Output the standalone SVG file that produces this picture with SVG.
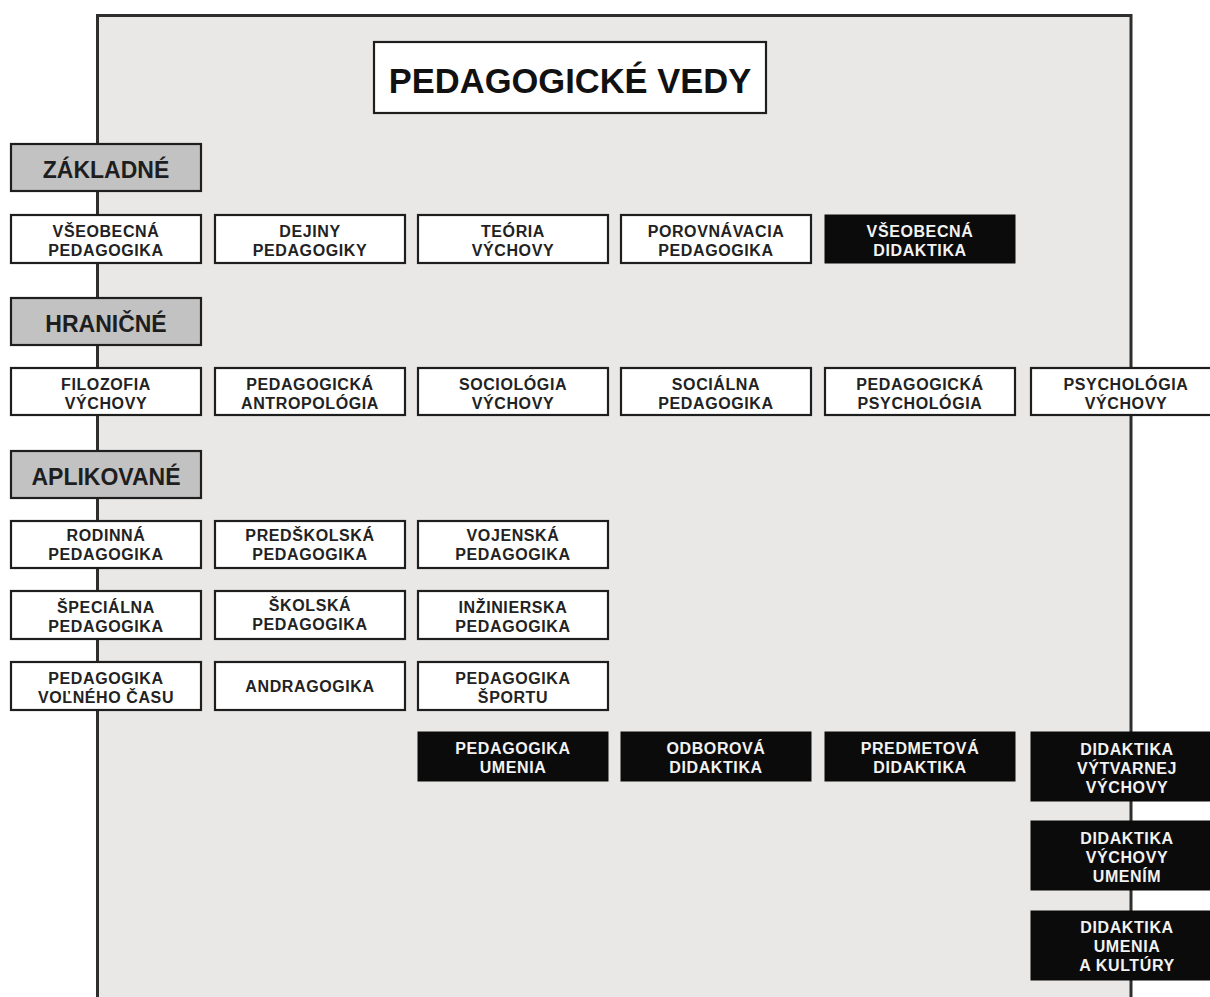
<svg xmlns="http://www.w3.org/2000/svg" width="1210" height="997" viewBox="0 0 1210 997">
<style>
.bg{fill:#ffffff}
.panel{fill:#e9e8e6}
.line{fill:none;stroke:#2e2e2e;stroke-width:3}
.box{fill:#ffffff;stroke:#1e1e1e;stroke-width:2.2}
.dark{fill:#0b0b0b;stroke:#0b0b0b;stroke-width:1}
.head{fill:#c2c2c2;stroke:#1e1e1e;stroke-width:2.2}
.t{font-family:"Liberation Sans",Arial,sans-serif;font-weight:bold;font-size:16px;letter-spacing:0.6px;text-anchor:middle;fill:#222}
.w{fill:#f2f2f2}
.h{font-family:"Liberation Sans",Arial,sans-serif;font-weight:bold;font-size:23px;text-anchor:middle;fill:#1e1e1e}
.title{font-family:"Liberation Sans",Arial,sans-serif;font-weight:bold;font-size:34.5px;text-anchor:middle;fill:#111}
</style>
<rect class="bg" x="0" y="0" width="1210" height="997"/>
<rect class="panel" x="97" y="15" width="1034" height="982"/>
<g id="connectors">
<path class="line" d="M97.5,997 V15.5 H1131 V997"/>
</g>
<g id="title"><rect class="box" x="374" y="42" width="392" height="71"/><text class="title" x="570" y="93">PEDAGOGICKÉ VEDY</text></g>

<g id="zakladne"><rect class="head" x="11" y="144" width="190" height="47"/><text class="h" x="106" y="178">ZÁKLADNÉ</text></g>
<g id="vseobecna-pedagogika"><rect class="box" x="11" y="215" width="190" height="48"/><text class="t" x="106" y="237">VŠEOBECNÁ</text><text class="t" x="106" y="256">PEDAGOGIKA</text></g>
<g id="dejiny-pedagogiky"><rect class="box" x="215" y="215" width="190" height="48"/><text class="t" x="310" y="237">DEJINY</text><text class="t" x="310" y="256">PEDAGOGIKY</text></g>
<g id="teoria-vychovy"><rect class="box" x="418" y="215" width="190" height="48"/><text class="t" x="513" y="237">TEÓRIA</text><text class="t" x="513" y="256">VÝCHOVY</text></g>
<g id="porovnavacia-pedagogika"><rect class="box" x="621" y="215" width="190" height="48"/><text class="t" x="716" y="237">POROVNÁVACIA</text><text class="t" x="716" y="256">PEDAGOGIKA</text></g>
<g id="vseobecna-didaktika"><rect class="dark" x="825" y="215" width="190" height="48"/><text class="t w" x="920" y="237">VŠEOBECNÁ</text><text class="t w" x="920" y="256">DIDAKTIKA</text></g>

<g id="hranicne"><rect class="head" x="11" y="298" width="190" height="47"/><text class="h" x="106" y="332">HRANIČNÉ</text></g>
<g id="filozofia-vychovy"><rect class="box" x="11" y="368" width="190" height="47"/><text class="t" x="106" y="390">FILOZOFIA</text><text class="t" x="106" y="409">VÝCHOVY</text></g>
<g id="pedagogicka-antropologia"><rect class="box" x="215" y="368" width="190" height="47"/><text class="t" x="310" y="390">PEDAGOGICKÁ</text><text class="t" x="310" y="409">ANTROPOLÓGIA</text></g>
<g id="sociologia-vychovy"><rect class="box" x="418" y="368" width="190" height="47"/><text class="t" x="513" y="390">SOCIOLÓGIA</text><text class="t" x="513" y="409">VÝCHOVY</text></g>
<g id="socialna-pedagogika"><rect class="box" x="621" y="368" width="190" height="47"/><text class="t" x="716" y="390">SOCIÁLNA</text><text class="t" x="716" y="409">PEDAGOGIKA</text></g>
<g id="pedagogicka-psychologia"><rect class="box" x="825" y="368" width="190" height="47"/><text class="t" x="920" y="390">PEDAGOGICKÁ</text><text class="t" x="920" y="409">PSYCHOLÓGIA</text></g>
<g id="psychologia-vychovy"><rect class="box" x="1031" y="368" width="190" height="47"/><text class="t" x="1126" y="390">PSYCHOLÓGIA</text><text class="t" x="1126" y="409">VÝCHOVY</text></g>

<g id="aplikovane"><rect class="head" x="11" y="451" width="190" height="47"/><text class="h" x="106" y="485">APLIKOVANÉ</text></g>
<g id="rodinna-pedagogika"><rect class="box" x="11" y="521" width="190" height="47"/><text class="t" x="106" y="541">RODINNÁ</text><text class="t" x="106" y="560">PEDAGOGIKA</text></g>
<g id="predskolska-pedagogika"><rect class="box" x="215" y="521" width="190" height="47"/><text class="t" x="310" y="541">PREDŠKOLSKÁ</text><text class="t" x="310" y="560">PEDAGOGIKA</text></g>
<g id="vojenska-pedagogika"><rect class="box" x="418" y="521" width="190" height="47"/><text class="t" x="513" y="541">VOJENSKÁ</text><text class="t" x="513" y="560">PEDAGOGIKA</text></g>
<g id="specialna-pedagogika"><rect class="box" x="11" y="591" width="190" height="48"/><text class="t" x="106" y="613">ŠPECIÁLNA</text><text class="t" x="106" y="632">PEDAGOGIKA</text></g>
<g id="skolska-pedagogika"><rect class="box" x="215" y="591" width="190" height="48"/><text class="t" x="310" y="611">ŠKOLSKÁ</text><text class="t" x="310" y="630">PEDAGOGIKA</text></g>
<g id="inzinierska-pedagogika"><rect class="box" x="418" y="591" width="190" height="48"/><text class="t" x="513" y="613">INŽINIERSKA</text><text class="t" x="513" y="632">PEDAGOGIKA</text></g>
<g id="pedagogika-volneho-casu"><rect class="box" x="11" y="662" width="190" height="48"/><text class="t" x="106" y="684">PEDAGOGIKA</text><text class="t" x="106" y="703">VOĽNÉHO ČASU</text></g>
<g id="andragogika"><rect class="box" x="215" y="662" width="190" height="48"/><text class="t" x="310" y="692">ANDRAGOGIKA</text></g>
<g id="pedagogika-sportu"><rect class="box" x="418" y="662" width="190" height="48"/><text class="t" x="513" y="684">PEDAGOGIKA</text><text class="t" x="513" y="703">ŠPORTU</text></g>

<g id="pedagogika-umenia"><rect class="dark" x="418" y="732" width="190" height="49"/><text class="t w" x="513" y="754">PEDAGOGIKA</text><text class="t w" x="513" y="773">UMENIA</text></g>
<g id="odborova-didaktika"><rect class="dark" x="621" y="732" width="190" height="49"/><text class="t w" x="716" y="754">ODBOROVÁ</text><text class="t w" x="716" y="773">DIDAKTIKA</text></g>
<g id="predmetova-didaktika"><rect class="dark" x="825" y="732" width="190" height="49"/><text class="t w" x="920" y="754">PREDMETOVÁ</text><text class="t w" x="920" y="773">DIDAKTIKA</text></g>
<g id="didaktika-vytvarnej-vychovy"><rect class="dark" x="1031" y="732" width="190" height="69"/><text class="t w" x="1127" y="755">DIDAKTIKA</text><text class="t w" x="1127" y="774">VÝTVARNEJ</text><text class="t w" x="1127" y="793">VÝCHOVY</text></g>
<g id="didaktika-vychovy-umenim"><rect class="dark" x="1031" y="821" width="190" height="69"/><text class="t w" x="1127" y="844">DIDAKTIKA</text><text class="t w" x="1127" y="863">VÝCHOVY</text><text class="t w" x="1127" y="882">UMENÍM</text></g>
<g id="didaktika-umenia-a-kultury"><rect class="dark" x="1031" y="911" width="190" height="69"/><text class="t w" x="1127" y="933">DIDAKTIKA</text><text class="t w" x="1127" y="952">UMENIA</text><text class="t w" x="1127" y="971">A KULTÚRY</text></g>
</svg>
